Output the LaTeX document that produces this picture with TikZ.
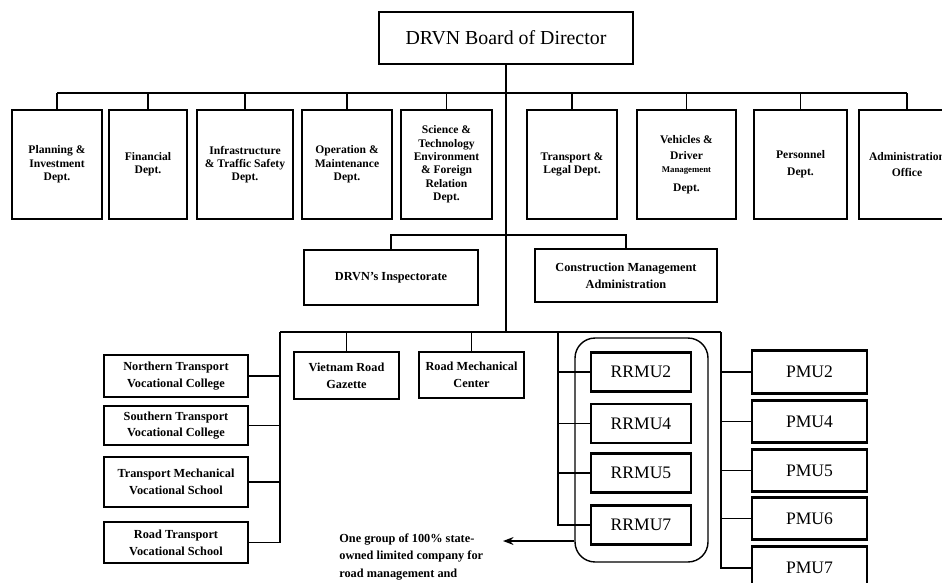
\documentclass[tikz,border=0pt]{standalone}
\usepackage{fontspec}
\setmainfont{Liberation Serif}
\usetikzlibrary{arrows.meta}

\begin{document}
\begin{tikzpicture}[x=0.02cm, y=-0.02cm,
    box/.style={draw, line width=1.6pt, align=center, inner sep=1pt},
    dept/.style={box, minimum height=2.18cm, font=\fontsize{6.6}{7.6}\selectfont\bfseries},
    unit/.style={box, font=\fontsize{7}{9.5}\selectfont\bfseries},
    rrmu/.style={box, minimum width=2.0cm, minimum height=0.78cm, font=\fontsize{10}{12}\selectfont},
    pmu/.style={box, minimum width=2.3cm, minimum height=0.85cm, font=\fontsize{10}{12}\selectfont},
    link/.style={line width=1.1pt},
]
    % Page frame (picture is cut at the right and bottom edge)
    \useasboundingbox (0,0) rectangle (942,582);
    \clip (0,0) rectangle (942,582);

    % Bus lines
    \coordinate (top bus) at (506,93);
    \coordinate (mid bus) at (506,235);
    \coordinate (low bus) at (506,332);
    \coordinate (left top) at (280,332);
    \coordinate (rrmu top) at (558,332);
    \coordinate (pmu top) at (721,332);

    % Board
    \node[box, minimum width=5.08cm, minimum height=1.04cm, font=\fontsize{11.3}{13}\selectfont] (board) at (506,38) {DRVN Board of Director};

    % Departments
    \node[dept, minimum width=1.80cm] (plan)  at (57,164.5)  {Planning \&\\ Investment\\ Dept.};
    \node[dept, minimum width=1.56cm] (fin)   at (148,164.5) {Financial\\ Dept.};
    \node[dept, minimum width=1.92cm] (infra) at (245,164.5) {Infrastructure\\ \& Traffic Safety\\ Dept.};
    \node[dept, minimum width=1.80cm] (oper)  at (347,164.5) {Operation \&\\ Maintenance\\ Dept.};
    \node[dept, minimum width=1.82cm] (sci)   at (446.5,164.5) {Science \&\\ Technology\\ Environment\\ \& Foreign\\ Relation\\ Dept.};
    \node[dept, minimum width=1.80cm] (trans) at (572,164.5) {Transport \&\\ Legal Dept.};
    \node[dept, minimum width=1.98cm] (veh)   at (686.5,164.5) {Vehicles \&\\[1.5pt] Driver\\ {\fontsize{5}{6}\selectfont Management}\\[3pt] Dept.};
    \node[dept, minimum width=1.86cm] (pers)  at (800.5,164.5) {Personnel\\[2pt] Dept.};
    \node[dept, minimum width=1.92cm] (admin) at (907,164.5) {Administration\\[2pt] Office};

    \draw[link] (board.south) -- (low bus);
    \draw[link] (plan.north |- top bus) -- (admin.north |- top bus);
    \foreach \d in {plan,fin,infra,oper,sci,trans,veh,pers,admin}
        \draw[link] (\d.north) -- (\d.north |- top bus);

    % Inspectorate and construction management
    \node[unit, minimum width=3.48cm, minimum height=1.10cm] (insp) at (391,277.5) {DRVN's Inspectorate};
    \node[unit, minimum width=3.64cm, minimum height=1.06cm] (cma) at (626,275.5) {Construction Management\\ Administration};
    \draw[link] (insp.north) -- (insp.north |- mid bus) -- (cma.north |- mid bus) -- (cma.north);

    % Lower level
    \draw[link] (left top) -- (pmu top);

    % Schools
    \node[unit, minimum width=2.88cm, minimum height=0.84cm] (north) at (176,376)   {Northern Transport\\ Vocational College};
    \node[unit, minimum width=2.88cm, minimum height=0.78cm] (south) at (176,425.5) {Southern Transport\\ Vocational College};
    \node[unit, minimum width=2.88cm, minimum height=1.00cm] (tmech) at (176,482)   {Transport Mechanical\\ Vocational School};
    \node[unit, minimum width=2.88cm, minimum height=0.82cm] (road)  at (176,542.5) {Road Transport\\ Vocational School};
    \draw[link] (left top) |- (road.east);
    \foreach \s in {north,south,tmech}
        \draw[link] (\s.east) -- (\s.east -| left top);

    % Gazette and mechanical center
    \node[unit, minimum width=2.10cm, minimum height=0.94cm] (gaz)  at (346.5,375.5) {Vietnam Road\\ Gazette};
    \node[unit, minimum width=2.10cm, minimum height=0.92cm] (rmc)  at (471.5,375)   {Road Mechanical\\ Center};
    \draw[link] (gaz.north) -- (gaz.north |- low bus);
    \draw[link] (rmc.north) -- (rmc.north |- low bus);

    % RRMU group
    \node[draw, line width=0.8pt, rounded corners=0.4cm, minimum width=2.66cm, minimum height=4.48cm] (rgroup) at (641.5,450) {};
    \node[rrmu] (r2) at (641,372)   {RRMU2};
    \node[rrmu] (r4) at (641,423.5) {RRMU4};
    \node[rrmu] (r5) at (641,473)   {RRMU5};
    \node[rrmu] (r7) at (641,525)   {RRMU7};
    \draw[link] (rrmu top) |- (r7.west);
    \foreach \r in {r2,r4,r5}
        \draw[link] (\r.west) -- (\r.west -| rrmu top);

    % PMUs
    \node[pmu] (p2) at (809.5,372)   {PMU2};
    \node[pmu] (p4) at (809.5,421.5) {PMU4};
    \node[pmu] (p5) at (809.5,470.5) {PMU5};
    \node[pmu] (p6) at (809.5,518.5) {PMU6};
    \node[pmu] (p7) at (809.5,568)   {PMU7};
    \draw[link] (pmu top) |- (p7.west);
    \foreach \p in {p2,p4,p5,p6}
        \draw[link] (\p.west) -- (\p.west -| pmu top);

    % Note on the road management companies
    \node[anchor=north west, align=left, inner sep=0pt, font=\fontsize{7}{10}\selectfont\bfseries] (note) at (339,533)
        {One group of 100\% state-\\ owned limited company for\\ road management and};
    \coordinate (tip) at (503,541);
    \draw[-{Stealth[length=6pt,width=4.5pt]}, line width=0.9pt] (rgroup.west |- tip) -- (tip);
\end{tikzpicture}
\end{document}
